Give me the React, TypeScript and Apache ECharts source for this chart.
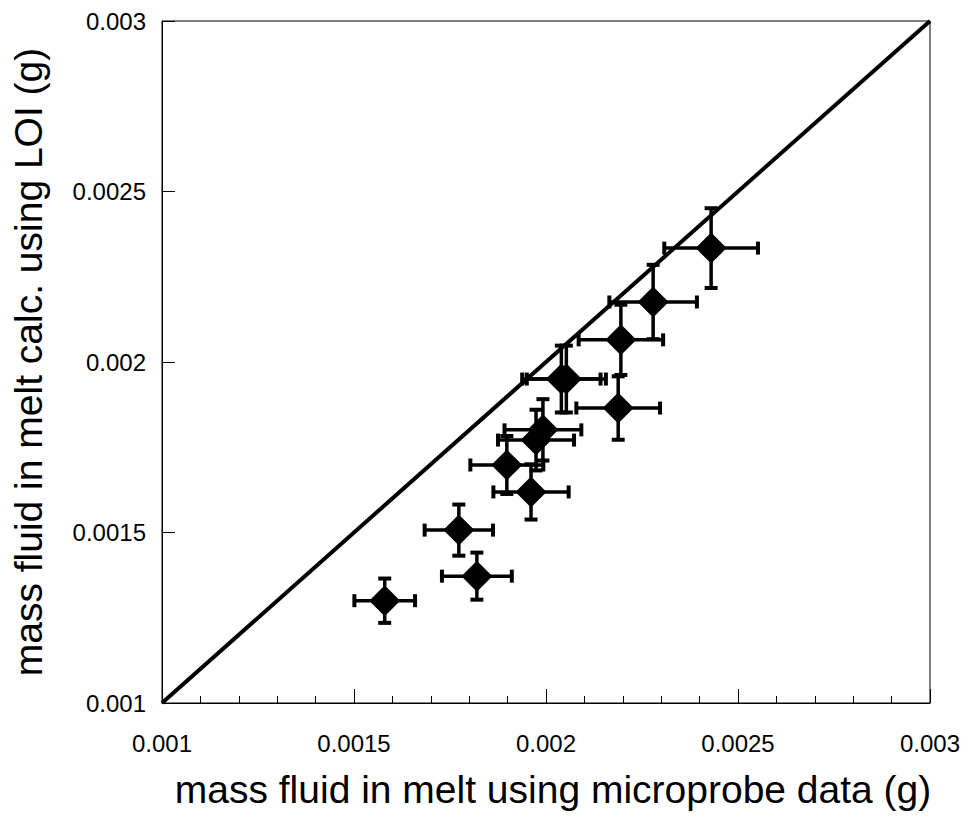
import React, { useEffect, useRef } from "react";
import * as echarts from "echarts";

const xValues = [0.00158, 0.001773, 0.00182, 0.001898, 0.001961, 0.001974, 0.001992, 0.00204, 0.002053, 0.002195, 0.002188, 0.002279, 0.00243];
const yValues = [0.0013, 0.001507, 0.001372, 0.001698, 0.001619, 0.001771, 0.001801, 0.00195, 0.00195, 0.002065, 0.001865, 0.002176, 0.002334];
const xErrors = [0.000079, 0.000089, 0.000091, 0.000095, 0.000098, 0.000099, 0.0001, 0.000102, 0.000103, 0.00011, 0.000109, 0.000114, 0.000122];
const yErrors = [0.000065, 0.000075, 0.000069, 0.000085, 0.000081, 0.000089, 0.00009, 0.000098, 0.000098, 0.000103, 0.000093, 0.000109, 0.000117];
const oneToOne = [[0.001, 0.001], [0.003, 0.003]];
const tickLabels = ["0.001", "0.0015", "0.002", "0.0025", "0.003"];
const axisMin = 0.001;
const axisMax = 0.003;
const tickStep = 0.0005;

const xTitle = "mass fluid in melt using microprobe data (g)";
const yTitle = "mass fluid in melt calc. using LOI (g)";

function fmt(v: number): string {
  const idx = Math.round((v - axisMin) / tickStep);
  return tickLabels[idx] ?? "";
}

export default function App() {
  const ref = useRef<HTMLDivElement>(null);
  useEffect(() => {
    if (!ref.current) return;
    const chart = echarts.init(ref.current, undefined, { renderer: "svg" });
    const font = "Liberation Sans, Arial, sans-serif";
    const errData = xValues.map((x, i) => [x, yValues[i], xErrors[i], yErrors[i]]);
    const ptData = xValues.map((x, i) => [x, yValues[i]]);
    chart.setOption({
      animation: false,
      backgroundColor: "#ffffff",
      grid: {
        left: 162,
        top: 21,
        width: 768,
        height: 682,
        show: true,
        borderColor: "#000",
        borderWidth: 1,
        backgroundColor: "transparent",
      },
      xAxis: {
        type: "value",
        min: axisMin,
        max: axisMax,
        interval: tickStep,
        name: xTitle,
        nameLocation: "middle",
        nameGap: 67,
        nameTextStyle: { fontFamily: font, fontSize: 39, color: "#000", padding: [0, 0, 0, 14] },
        axisLine: { lineStyle: { color: "#000", width: 1 } },
        axisTick: { inside: true, length: 14, lineStyle: { color: "#000" } },
        minorTick: { show: true, splitNumber: 5, length: 7, lineStyle: { color: "#000" } },
        splitLine: { show: false },
        axisLabel: {
          fontFamily: font,
          fontSize: 24,
          color: "#000",
          margin: 28,
          formatter: (v: number) => fmt(v),
        },
      },
      yAxis: {
        type: "value",
        min: axisMin,
        max: axisMax,
        interval: tickStep,
        name: yTitle,
        nameLocation: "middle",
        nameGap: 114,
        nameTextStyle: { fontFamily: font, fontSize: 39, color: "#000" },
        axisLine: { lineStyle: { color: "#000", width: 1 } },
        axisTick: { inside: true, length: 13, lineStyle: { color: "#000" } },
        splitLine: { show: false },
        axisLabel: {
          fontFamily: font,
          fontSize: 24,
          color: "#000",
          margin: 16,
          formatter: (v: number) => fmt(v),
        },
      },
      series: [
        {
          type: "line",
          data: oneToOne,
          symbol: "none",
          lineStyle: { color: "#000", width: 4 },
          z: 2,
        },
        {
          type: "custom",
          data: errData,
          z: 3,
          renderItem: (params: any, api: any) => {
            const x = api.value(0);
            const y = api.value(1);
            const xe = api.value(2);
            const ye = api.value(3);
            const l = api.coord([x - xe, y]);
            const r = api.coord([x + xe, y]);
            const t = api.coord([x, y + ye]);
            const b = api.coord([x, y - ye]);
            const cap = 6.5;
            const bar = { stroke: "#000", lineWidth: 3.5 };
            const capS = { stroke: "#000", lineWidth: 4 };
            return {
              type: "group",
              children: [
                { type: "line", shape: { x1: l[0], y1: l[1], x2: r[0], y2: r[1] }, style: bar },
                { type: "line", shape: { x1: t[0], y1: t[1], x2: b[0], y2: b[1] }, style: bar },
                { type: "line", shape: { x1: l[0], y1: l[1] - cap, x2: l[0], y2: l[1] + cap }, style: capS },
                { type: "line", shape: { x1: r[0], y1: r[1] - cap, x2: r[0], y2: r[1] + cap }, style: capS },
                { type: "line", shape: { x1: t[0] - cap, y1: t[1], x2: t[0] + cap, y2: t[1] }, style: capS },
                { type: "line", shape: { x1: b[0] - cap, y1: b[1], x2: b[0] + cap, y2: b[1] }, style: capS },
              ],
            };
          },
        },
        {
          type: "scatter",
          data: ptData,
          symbol: "diamond",
          symbolSize: 31,
          itemStyle: { color: "#000", opacity: 1 },
          z: 4,
        },
      ],
    });
    return () => chart.dispose();
  }, []);
  return (
    <div
      ref={ref}
      style={{ position: "absolute", left: 0, top: 0, width: 968, height: 824 }}
    />
  );
}
